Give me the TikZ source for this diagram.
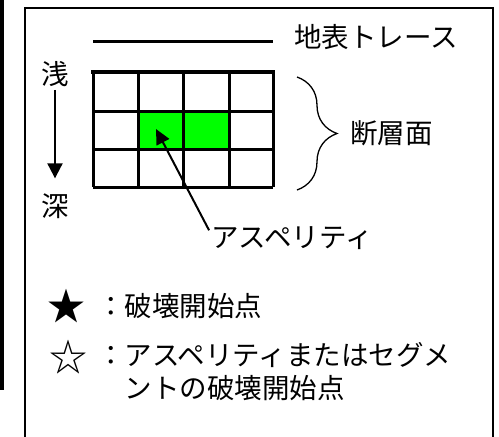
\documentclass[tikz,border=0pt]{standalone}
\usepackage{fontspec}
\setmainfont{Noto Sans CJK JP}
\usetikzlibrary{arrows.meta,decorations.pathreplacing}
\definecolor{aspgreen}{RGB}{0,255,0}
\tikzset{
  label/.style={font=\fontsize{27.5pt}{32pt}\selectfont, inner sep=0pt},
  gridline/.style={line width=3pt},
}
\begin{document}
\begin{tikzpicture}[x=1pt,y=-1pt]
	  \useasboundingbox (0,0) rectangle (499,437);
	  \fill (0,0) rectangle (4,390);
	  \draw [ line width=2pt ] (25,445)--(25,8)--(493,8)--(493,445);

	  % surface trace
	  \draw [ gridline ] (93,41)--(273,41);
	  \node [ label, anchor=west ] (trace) at (294,37) {地表トレース};

	  % fault plane
	  \fill [ aspgreen ] (138,111) rectangle (229,149);
	  \foreach \x in {93,138,183,229,273}
	    \draw [ gridline ] (\x,72)--(\x,187);
	  \draw [ gridline ] (93,111)--(273,111);
	  \draw [ gridline ] (93,149)--(273,149);
	  \draw [ gridline ] (93,187)--(273,187);
	  \draw [ line width=4pt ] (91,72)--(275,72);

	  % depth
	  \node [ label ] (shallow) at (55,74) {浅};
	  \node [ label ] (deep) at (55,206) {深};
	  \draw [ line width=2pt, -{Triangle[length=15pt,width=15pt]} ] ([yshift=-3pt]shallow.south) -- ([yshift=15pt]deep.north);

	  \draw [ line width=1.3pt, decorate, decoration={brace, amplitude=40pt} ] (297,77)--(297,190);
	  \node [ label, anchor=west ] (plane) at (350,133) {断層面};

	  % asperity
	  \node [ label ] (asp) at (292,238) {アスペリティ};
	  \coordinate (asphead) at (156,129);
	  \draw [ line width=2pt, -{Triangle[length=15pt,width=14pt]} ] ([xshift=-2pt,yshift=-4pt]asp.north west) -- (asphead);

	  % legend
	  \node [ label, font=\fontsize{38pt}{38pt}\selectfont ] (starA) at (66,306) {★};
	  \node [ label, font=\fontsize{38pt}{38pt}\selectfont ] (starB) at (68,357) {☆};
	  \node [ label, anchor=west ] (legA) at (97,306) {：破壊開始点};
	  \node [ label, anchor=west ] (legB) at (97,355) {：アスペリティまたはセグメ};
	  \node [ label, anchor=west ] (legC) at (124.5,388) {ントの破壊開始点};
	\end{tikzpicture}
\end{document}
